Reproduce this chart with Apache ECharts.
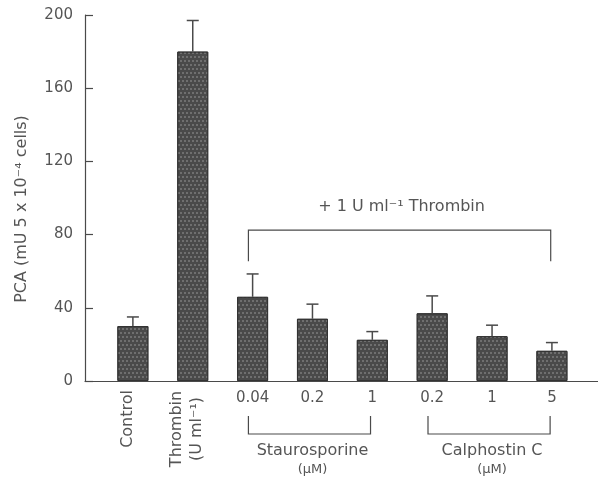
<!DOCTYPE html>
<html>
<head>
<meta charset="utf-8">
<script src="https://cdn.jsdelivr.net/npm/echarts@6/dist/echarts.min.js"></script>
<style>
  html, body { margin: 0; padding: 0; background: #fff; }
  #pca-chart { width: 598px; height: 477px; }
</style>
</head>
<body>
<div id="pca-chart"></div>
<script>
// data
const categories = ['Control', 'Thrombin', '0.04', '0.2', '1', '0.2', '1', '5']
const meanPCA = [30, 180, 46, 34, 22.5, 37, 24.5, 16.5]
const errPCA = [5, 17, 12.5, 8, 4.5, 9.5, 6, 4.5]
const yTicks = [0, 40, 80, 120, 160, 200]

// groups below the axis: [first category, last category, name]
const inhibitorGroups = [
  [3, 5, 'Staurosporine'],
  [6, 8, 'Calphostin C']
]

const ink = '#4a4a4a'
const textInk = '#555'
const font = 'DejaVu Sans, sans-serif'

const chart = echarts.init(document.getElementById('pca-chart'))

const barData = meanPCA.map((v, i) => [i + 1, v])
const errData = meanPCA.map((v, i) => [i + 1, v, v + errPCA[i]])
const labelData = categories.map((c, i) => [i + 1, 0])

const option = {
  animation: false,
  grid: { left: 85, right: 0, top: 15, bottom: 96 },
  xAxis: {
    type: 'value',
    min: 0.2,
    max: 8.77,
    axisLine: { show: true, lineStyle: { color: ink, width: 1.2 } },
    axisTick: { show: false },
    axisLabel: { show: false },
    splitLine: { show: false }
  },
  yAxis: {
    type: 'value',
    min: yTicks[0],
    max: yTicks[yTicks.length - 1],
    interval: 40,
    name: 'PCA (mU 5 x 10\u207B\u2074 cells)',
    nameLocation: 'middle',
    nameGap: 55,
    nameTextStyle: { color: textInk, fontSize: 16, fontFamily: font, padding: [0, 22, 0, 0] },
    axisLine: { show: true, lineStyle: { color: ink, width: 1.2 } },
    axisTick: { show: true, inside: true, length: 8, lineStyle: { color: ink, width: 1.2 } },
    axisLabel: { color: textInk, fontSize: 15, fontFamily: font, margin: 12 },
    splitLine: { show: false }
  },
  series: [
    {
      type: 'bar',
      data: barData,
      barWidth: 31,
      itemStyle: {
        color: '#4a4a4a',
        borderColor: '#333',
        borderWidth: 1,
        decal: {
          symbol: 'rect',
          symbolSize: 0.8,
          color: 'rgba(255,255,255,0.35)',
          dashArrayX: [[1.5, 1.5], [0, 1.5, 1.5, 0]],
          dashArrayY: [1.5, 1.5]
        }
      }
    },
    {
      // error bars
      type: 'custom',
      data: errData,
      renderItem: function (params, api) {
        const base = api.coord([api.value(0), api.value(1)])
        const top = api.coord([api.value(0), api.value(2)])
        const style = { stroke: ink, lineWidth: 1.5 }
        return {
          type: 'group',
          children: [
            { type: 'line', shape: { x1: base[0], y1: base[1], x2: top[0], y2: top[1] }, style: style },
            { type: 'line', shape: { x1: top[0] - 6, y1: top[1], x2: top[0] + 6, y2: top[1] }, style: style }
          ]
        }
      },
      z: 3
    },
    {
      // category labels under the axis
      type: 'custom',
      data: labelData,
      clip: false,
      renderItem: function (params, api) {
        const p = api.coord([api.value(0), 0])
        const i = params.dataIndex
        const txt = { fill: textInk, fontFamily: font }
        if (i === 0) {
          return {
            type: 'text', x: p[0] - 5, y: p[1] + 9, rotation: Math.PI / 2,
            style: Object.assign({ text: categories[i], fontSize: 16, align: 'right', verticalAlign: 'middle' }, txt)
          }
        }
        if (i === 1) {
          return {
            type: 'text', x: p[0] - 6, y: p[1] + 48, rotation: Math.PI / 2,
            style: Object.assign({
              text: 'Thrombin\n(U ml\u207B\u00B9)', fontSize: 16, lineHeight: 20,
              align: 'center', verticalAlign: 'middle'
            }, txt)
          }
        }
        return {
          type: 'text', x: p[0], y: p[1] + 17,
          style: Object.assign({ text: categories[i], fontSize: 15, align: 'center', verticalAlign: 'middle' }, txt)
        }
      }
    },
    {
      // brackets: thrombin above the bars, inhibitors below the axis
      type: 'custom',
      data: [[0, 0]],
      clip: false,
      renderItem: function (params, api) {
        const style = { stroke: ink, lineWidth: 1.2, fill: null }
        const a = api.coord([2.93, 82.5])
        const b = api.coord([7.98, 65.5])
        const children = [
          {
            type: 'polyline',
            shape: { points: [[a[0], b[1]], [a[0], a[1]], [b[0], a[1]], [b[0], b[1]]] },
            style: style
          },
          {
            type: 'text', x: (a[0] + b[0]) / 2 + 2, y: a[1] - 23,
            style: { text: '+ 1 U ml\u207B\u00B9 Thrombin', fill: textInk, fontSize: 16, fontFamily: font, align: 'center', verticalAlign: 'middle' }
          }
        ]
        inhibitorGroups.forEach(function (g) {
          const l = api.coord([g[0] - 0.07, 0])
          const r = api.coord([g[1] - 0.03, 0])
          const mid = api.coord([(g[0] + g[1]) / 2, 0])
          const y0 = l[1]
          children.push({
            type: 'polyline',
            shape: { points: [[l[0], y0 + 35], [l[0], y0 + 53], [r[0], y0 + 53], [r[0], y0 + 35]] },
            style: style
          })
          children.push({
            type: 'text', x: mid[0], y: y0 + 70,
            style: { text: g[2], fill: textInk, fontSize: 16, fontFamily: font, align: 'center', verticalAlign: 'middle' }
          })
          children.push({
            type: 'text', x: mid[0], y: y0 + 89,
            style: { text: '(\u00B5M)', fill: textInk, fontSize: 13, fontFamily: font, align: 'center', verticalAlign: 'middle' }
          })
        })
        return { type: 'group', children: children }
      }
    }
  ]
}

chart.setOption(option)
</script>
</body>
</html>
